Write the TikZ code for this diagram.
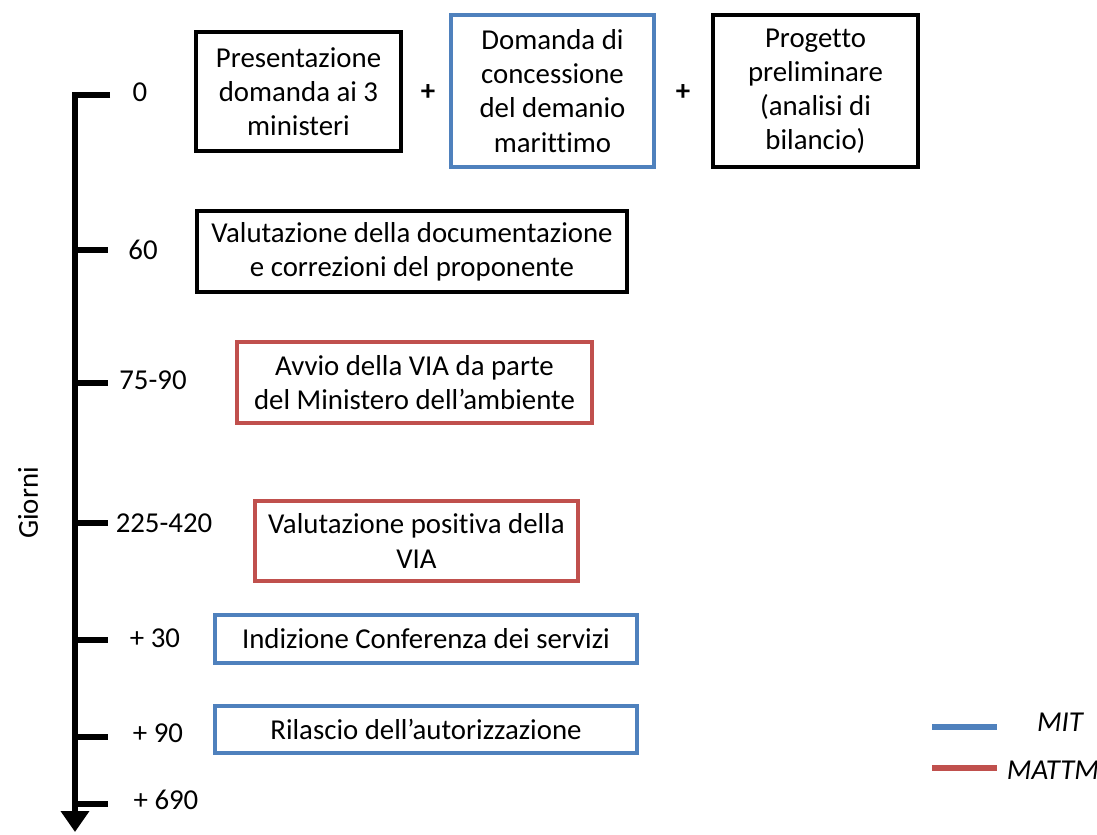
\documentclass[tikz,border=0pt]{standalone}
\usepackage{fontspec}
\setmainfont{Carlito}[Ligatures = NoCommon]
\usetikzlibrary{arrows.meta,positioning}
\definecolor{mitblue}{RGB}{79,129,189}
\definecolor{mattmred}{RGB}{192,80,77}

\begin{document}
\begin{tikzpicture}[
  every node/.style = {font = \fontsize{16.4}{19.4}\selectfont},
  box/.style = {draw = black, line width = 2.2pt, align = center, inner sep = 2pt},
  mitbox/.style = {box, draw = mitblue, line width = 1.8pt},
  mattmbox/.style = {box, draw = mattmred, line width = 1.8pt},
  axis/.style = {line width = 3.4pt}]
\useasboundingbox (0,0) rectangle (21.94,-16.68);

% asse dei giorni
\coordinate (tick0) at (2.2,-1.9);
\coordinate (top) at (1.5,-1.9);
\coordinate (bottom) at (1.5,-16.64);
\draw[axis, -{Triangle[width=0.55cm, length=0.42cm]}] (tick0) -- (top) -- (bottom);
\foreach \y in {-5.0,-7.66,-10.46,-12.8,-14.74,-16.08}
  \draw[axis] (1.5,\y) -- (2.16,\y);
\node[rotate = 90] (giorni) at (0.56,-10.06) {Giorni};

\node (d0)   at (2.8,-1.84)  {0};
\node (d60)  at (2.86,-5.0)  {60};
\node (d75)  at (3.06,-7.6)  {75-90};
\node (d225) at (3.28,-10.46) {225-420};
\node (d30)  at (3.1,-12.76) {+ 30};
\node (d90)  at (3.16,-14.66) {+ 90};
\node (d690) at (3.32,-16.0) {+ 690};

% domanda
\node[box, minimum width = 4.1cm, minimum height = 2.38cm] (presentazione) at (5.97,-1.83)
  {Presentazione\\domanda ai 3\\ministeri};
\node[font = \fontsize{16.4}{19.4}\selectfont\bfseries] (plus1) at (8.56,-1.86) {+};
\node[mitbox, minimum width = 4.06cm, minimum height = 3.04cm] (demanio) at (11.05,-1.82)
  {Domanda di\\concessione\\del demanio\\marittimo};
\node[font = \fontsize{16.4}{19.4}\selectfont\bfseries] (plus2) at (13.66,-1.86) {+};
\node[box, minimum width = 4.1cm, minimum height = 3.04cm] (progetto) at (16.31,-1.82)
  {Progetto\\preliminare\\(analisi di\\bilancio)};

% fasi
\node[box, minimum width = 8.6cm, minimum height = 1.62cm] (valutazione) at (8.24,-5.03)
  {Valutazione della documentazione\\e correzioni del proponente};
\node[mattmbox, minimum width = 7.1cm, minimum height = 1.62cm] (avvio) at (8.29,-7.65)
  {Avvio della VIA da parte\\del Ministero dell’ambiente};
\node[mattmbox, minimum width = 6.46cm, minimum height = 1.6cm] (positiva) at (8.33,-10.82)
  {Valutazione positiva della\\VIA};
\node[mitbox, minimum width = 8.44cm, minimum height = 0.96cm] (conferenza) at (8.52,-12.78)
  {Indizione Conferenza dei servizi};
\node[mitbox, minimum width = 8.44cm, minimum height = 0.94cm] (rilascio) at (8.52,-14.59)
  {Rilascio dell’autorizzazione};

% legenda
\coordinate (mitA) at (18.64,-14.54);
\coordinate (mitB) at (19.94,-14.54);
\coordinate (mattmA) at (18.64,-15.36);
\coordinate (mattmB) at (19.94,-15.36);
\draw[mitblue, line width = 3.5pt] (mitA) -- (mitB);
\draw[mattmred, line width = 3.5pt] (mattmA) -- (mattmB);
\node[font = \fontsize{16.4}{19.4}\selectfont\itshape] (mit) at (21.2,-14.44) {MIT};
\node[font = \fontsize{16.4}{19.4}\selectfont\itshape] (mattm) at (21.06,-15.4) {MATTM};
\end{tikzpicture}
\end{document}
